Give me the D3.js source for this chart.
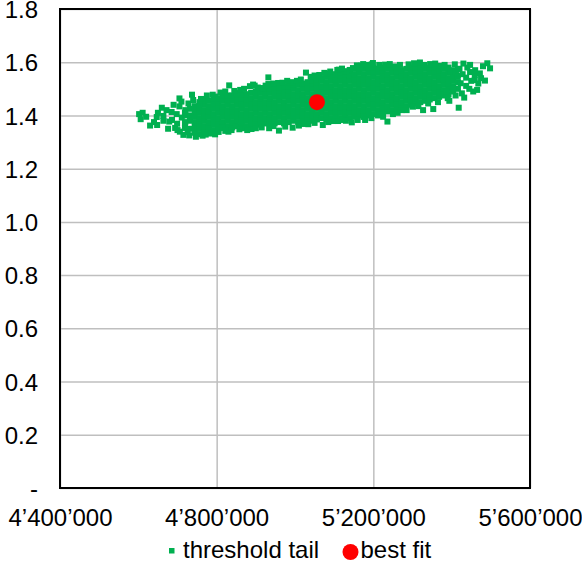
<!DOCTYPE html>
<html>
<head>
<meta charset="utf-8">
<script src="https://cdn.jsdelivr.net/npm/d3@7"></script>
<style>
  html, body { margin: 0; padding: 0; background: #fff; }
  svg { display: block; }
  text { font-family: "Liberation Sans", Arial, sans-serif; fill: #000; }
</style>
</head>
<body>
<svg id="chart" width="582" height="563"></svg>
<script>
// Axis ticks (x in thousands)
const xTicks = [4400, 4800, 5200, 5600];
const yTicks = [0, 0.2, 0.4, 0.6, 0.8, 1.0, 1.2, 1.4, 1.6, 1.8];

// Threshold-tail sample, dense part: [x (thousands), [y values]]
const tailColumns = [
  [4720, [1.375, 1.40, 1.42]],
  [4732, [1.35, 1.38, 1.40, 1.425]],
  [4744, [1.335, 1.355, 1.375, 1.395, 1.415, 1.435]],
  [4756, [1.33, 1.35, 1.37, 1.39, 1.41, 1.43, 1.45]],
  [4768, [1.34, 1.36, 1.38, 1.40, 1.42, 1.44, 1.455]],
  [4780, [1.335, 1.355, 1.375, 1.395, 1.415, 1.435, 1.455]],
  [4792, [1.345, 1.365, 1.385, 1.405, 1.425, 1.445, 1.465]],
  [4804, [1.35, 1.37, 1.39, 1.41, 1.43, 1.45, 1.465]],
  [4816, [1.355, 1.375, 1.395, 1.415, 1.435, 1.455, 1.475]],
  [4828, [1.36, 1.38, 1.40, 1.42, 1.44, 1.46, 1.475]],
  [4840, [1.355, 1.375, 1.395, 1.415, 1.435, 1.455, 1.475]],
  [4852, [1.36, 1.38, 1.40, 1.42, 1.44, 1.46, 1.48]],
  [4864, [1.365, 1.385, 1.405, 1.425, 1.445, 1.465, 1.48]],
  [4876, [1.36, 1.38, 1.40, 1.42, 1.44, 1.46, 1.48]],
  [4888, [1.365, 1.385, 1.405, 1.425, 1.445, 1.465, 1.485]],
  [4900, [1.37, 1.39, 1.41, 1.43, 1.45, 1.47, 1.49]],
  [4912, [1.365, 1.385, 1.405, 1.425, 1.445, 1.465, 1.485]],
  [4924, [1.37, 1.39, 1.41, 1.43, 1.45, 1.47, 1.49, 1.50]],
  [4936, [1.365, 1.385, 1.405, 1.425, 1.445, 1.465, 1.485, 1.50]],
  [4948, [1.37, 1.39, 1.41, 1.43, 1.45, 1.47, 1.49, 1.505]],
  [4960, [1.375, 1.395, 1.415, 1.435, 1.455, 1.475, 1.495, 1.505]],
  [4972, [1.37, 1.39, 1.41, 1.43, 1.45, 1.47, 1.49, 1.51]],
  [4984, [1.375, 1.395, 1.415, 1.435, 1.455, 1.475, 1.495, 1.51]],
  [4996, [1.38, 1.40, 1.42, 1.44, 1.46, 1.48, 1.50, 1.515]],
  [5008, [1.375, 1.395, 1.415, 1.435, 1.455, 1.475, 1.495, 1.515]],
  [5020, [1.38, 1.40, 1.42, 1.44, 1.46, 1.48, 1.50, 1.52]],
  [5032, [1.385, 1.405, 1.425, 1.445, 1.465, 1.485, 1.505, 1.525]],
  [5044, [1.38, 1.40, 1.42, 1.44, 1.46, 1.48, 1.50, 1.52, 1.53]],
  [5056, [1.385, 1.405, 1.425, 1.445, 1.465, 1.485, 1.505, 1.525, 1.535]],
  [5068, [1.39, 1.41, 1.43, 1.45, 1.47, 1.49, 1.51, 1.53, 1.54]],
  [5080, [1.385, 1.405, 1.425, 1.445, 1.465, 1.485, 1.505, 1.525, 1.545]],
  [5092, [1.39, 1.41, 1.43, 1.45, 1.47, 1.49, 1.51, 1.53, 1.55]],
  [5104, [1.395, 1.415, 1.435, 1.455, 1.475, 1.495, 1.515, 1.535, 1.555]],
  [5116, [1.39, 1.41, 1.43, 1.45, 1.47, 1.49, 1.51, 1.53, 1.55, 1.56]],
  [5128, [1.395, 1.415, 1.435, 1.455, 1.475, 1.495, 1.515, 1.535, 1.555, 1.565]],
  [5140, [1.39, 1.41, 1.43, 1.45, 1.47, 1.49, 1.51, 1.53, 1.55, 1.57]],
  [5152, [1.395, 1.415, 1.435, 1.455, 1.475, 1.495, 1.515, 1.535, 1.555, 1.575]],
  [5164, [1.40, 1.42, 1.44, 1.46, 1.48, 1.50, 1.52, 1.54, 1.56, 1.575]],
  [5176, [1.395, 1.415, 1.435, 1.455, 1.475, 1.495, 1.515, 1.535, 1.555, 1.575]],
  [5188, [1.40, 1.42, 1.44, 1.46, 1.48, 1.50, 1.52, 1.54, 1.56, 1.58]],
  [5200, [1.405, 1.425, 1.445, 1.465, 1.485, 1.505, 1.525, 1.545, 1.565, 1.58]],
  [5212, [1.40, 1.42, 1.44, 1.46, 1.48, 1.50, 1.52, 1.54, 1.56, 1.575]],
  [5224, [1.41, 1.43, 1.45, 1.47, 1.49, 1.51, 1.53, 1.55, 1.57, 1.58]],
  [5236, [1.415, 1.435, 1.455, 1.475, 1.495, 1.515, 1.535, 1.555, 1.575]],
  [5248, [1.42, 1.44, 1.46, 1.48, 1.50, 1.52, 1.54, 1.56, 1.58]],
  [5260, [1.425, 1.445, 1.465, 1.485, 1.505, 1.525, 1.545, 1.565, 1.58]],
  [5272, [1.43, 1.45, 1.47, 1.49, 1.51, 1.53, 1.55, 1.57]],
  [5284, [1.435, 1.455, 1.475, 1.495, 1.515, 1.535, 1.555, 1.575]],
  [5296, [1.44, 1.46, 1.48, 1.50, 1.52, 1.54, 1.56, 1.58]],
  [5308, [1.445, 1.465, 1.485, 1.505, 1.525, 1.545, 1.565, 1.58]],
  [5320, [1.45, 1.47, 1.49, 1.51, 1.53, 1.55, 1.57, 1.585]],
  [5332, [1.455, 1.475, 1.495, 1.515, 1.535, 1.555, 1.575]],
  [5344, [1.46, 1.48, 1.50, 1.52, 1.54, 1.56, 1.58]],
  [5356, [1.465, 1.485, 1.505, 1.525, 1.545, 1.565, 1.58]],
  [5368, [1.47, 1.49, 1.51, 1.53, 1.55, 1.57, 1.585]],
  [5380, [1.475, 1.495, 1.515, 1.535, 1.555, 1.575]],
  [5392, [1.48, 1.50, 1.52, 1.54, 1.56, 1.58]],
  [5404, [1.49, 1.51, 1.53, 1.55, 1.57]],
  [5416, [1.50, 1.525, 1.55, 1.575]]
];

// Threshold-tail sample, scattered edge points: [x (thousands), y]
const tailScattered = [
  // left tail
  [4602, 1.405], [4606, 1.386], [4611, 1.410], [4630, 1.362], [4647, 1.394],
  [4648, 1.364], [4660, 1.429], [4664, 1.398], [4664, 1.380], [4679, 1.377],
  [4685, 1.413], [4686, 1.383], [4694, 1.353], [4698, 1.405], [4699, 1.369],
  [4705, 1.464], [4705, 1.434], [4706, 1.339], [4711, 1.392], [4715, 1.327],
  [4719, 1.353], [4719, 1.410], [4719, 1.372], [4737, 1.478], [4747, 1.320],
  [4757, 1.443], [4764, 1.324], [4775, 1.475], [4796, 1.471], [4796, 1.329],
  [4785, 1.332], [4805, 1.338], [4650, 1.410], [4672, 1.420], [4690, 1.440],
  [4700, 1.345], [4676, 1.350], [4640, 1.375], [4620, 1.395], [4710, 1.452],
  [4726, 1.338], [4728, 1.445],
  // upper edge
  [4832, 1.513], [4851, 1.484], [4860, 1.496], [4885, 1.510], [4893, 1.516],
  [4897, 1.512], [4916, 1.503], [4932, 1.543], [4932, 1.518], [4957, 1.522],
  [4987, 1.522], [4994, 1.525], [5028, 1.561], [5082, 1.558], [5108, 1.571],
  [5112, 1.572], [5132, 1.566], [5140, 1.571], [5148, 1.578], [5168, 1.587],
  [5174, 1.593], [5196, 1.592], [5199, 1.597], [5230, 1.591], [5255, 1.584],
  [5304, 1.596], [5319, 1.599], [5345, 1.593], [5370, 1.586], [5396, 1.566],
  [5408, 1.592], [5411, 1.563],
  [4740, 1.458], [4760, 1.462], [4790, 1.478], [4810, 1.486], [4822, 1.490],
  [4845, 1.492], [4870, 1.500], [4905, 1.505], [4925, 1.512], [4945, 1.520],
  [4968, 1.523], [4980, 1.530], [5005, 1.530], [5015, 1.535], [5040, 1.545],
  [5050, 1.550], [5062, 1.552], [5075, 1.560], [5090, 1.565], [5120, 1.576],
  [5158, 1.588], [5185, 1.590], [5215, 1.590], [5242, 1.593], [5268, 1.590],
  [5290, 1.592], [5330, 1.590], [5358, 1.595], [5382, 1.590],
  // lower edge
  [4814, 1.353], [4830, 1.339], [4847, 1.360], [4868, 1.352], [4889, 1.349],
  [4934, 1.352], [4959, 1.343], [4994, 1.354], [5034, 1.367], [5071, 1.364],
  [5097, 1.379], [5110, 1.379], [5122, 1.383], [5145, 1.374], [5175, 1.395],
  [5179, 1.383], [5216, 1.402], [5236, 1.377], [5272, 1.420], [5301, 1.433],
  [5327, 1.420], [5353, 1.424],
  [4730, 1.325], [4772, 1.328], [4790, 1.335], [4822, 1.342], [4838, 1.345],
  [4858, 1.348], [4878, 1.345], [4900, 1.352], [4915, 1.355], [4945, 1.360],
  [4975, 1.358], [5010, 1.362], [5022, 1.368], [5050, 1.372], [5085, 1.375],
  [5130, 1.380], [5160, 1.383], [5195, 1.390], [5225, 1.395], [5250, 1.405],
  [5262, 1.410], [5285, 1.420], [5315, 1.435], [5340, 1.445], [5365, 1.450],
  [5390, 1.465], [5410, 1.475],
  // right end
  [5379, 1.477], [5387, 1.489], [5394, 1.455], [5404, 1.502], [5418, 1.429],
  [5423, 1.521], [5426, 1.483], [5432, 1.467], [5437, 1.542], [5437, 1.511],
  [5447, 1.590], [5447, 1.563], [5459, 1.533], [5459, 1.552], [5465, 1.496],
  [5472, 1.558], [5485, 1.531], [5491, 1.596], [5498, 1.577], [5420, 1.575],
  [5428, 1.555], [5415, 1.545], [5440, 1.580],
  [5450, 1.530], [5460, 1.570], [5475, 1.540], [5480, 1.585], [5430, 1.595],
  [5468, 1.520], [5445, 1.500], [5455, 1.490]
];

// Best-fit point: [x (thousands), y]
const bestFit = [5056, 1.45];

const seriesNames = ["threshold tail", "best fit"];
const green = "#00B050";
const red = "#FF0000";

const svg = d3.select("#chart");
const W = 582, H = 563;
const margin = { left: 60, top: 9, right: 52, bottom: 75 };
const plotW = W - margin.left - margin.right;   // 470
const plotH = H - margin.top - margin.bottom;   // 479

const x = d3.scaleLinear().domain([4400, 5600]).range([margin.left, margin.left + plotW]);
const y = d3.scaleLinear().domain([0, 1.8]).range([margin.top + plotH, margin.top]);

const tailPoints = [];
tailColumns.forEach(([xv, ys]) => ys.forEach(yv => tailPoints.push([xv, yv])));
tailScattered.forEach(p => tailPoints.push(p));

// Gridlines
const gridColor = "#BFBFBF";
svg.append("g")
  .attr("transform", `translate(${margin.left},0)`)
  .call(d3.axisLeft(y).tickValues(yTicks).tickSize(-plotW).tickFormat(""))
  .call(g => g.select(".domain").remove())
  .call(g => g.selectAll("line").attr("stroke", gridColor).attr("stroke-width", 1.5));
svg.append("g")
  .attr("transform", `translate(0,${margin.top + plotH})`)
  .call(d3.axisBottom(x).tickValues(xTicks).tickSize(-plotH).tickFormat(""))
  .call(g => g.select(".domain").remove())
  .call(g => g.selectAll("line").attr("stroke", gridColor).attr("stroke-width", 1.5));

// Axis labels
const fmtX = d => d3.format(",")(d * 1000).replace(/,/g, "\u2019");
const fmtY = d => d === 0 ? "-" : d3.format(".1f")(d);

svg.append("g")
  .attr("transform", `translate(${margin.left},0)`)
  .call(d3.axisLeft(y).tickValues(yTicks).tickSize(0).tickPadding(22).tickFormat(fmtY))
  .call(g => g.select(".domain").remove())
  .call(g => g.selectAll("text")
    .attr("font-family", "Liberation Sans, Arial, sans-serif")
    .attr("font-size", 24).attr("fill", "#000").attr("dy", "0.36em"));

svg.append("g")
  .attr("transform", `translate(0,${margin.top + plotH})`)
  .call(d3.axisBottom(x).tickValues(xTicks).tickSize(0).tickPadding(21).tickFormat(fmtX))
  .call(g => g.select(".domain").remove())
  .call(g => g.selectAll("text")
    .attr("font-family", "Liberation Sans, Arial, sans-serif")
    .attr("font-size", 24).attr("fill", "#000"));

// Threshold-tail markers
const sq = 6;
svg.append("g")
  .selectAll("rect")
  .data(tailPoints)
  .join("rect")
  .attr("x", d => x(d[0]) - sq / 2)
  .attr("y", d => y(d[1]) - sq / 2)
  .attr("width", sq)
  .attr("height", sq)
  .attr("fill", green);

// Best-fit marker
svg.append("circle")
  .attr("cx", x(bestFit[0]))
  .attr("cy", y(bestFit[1]))
  .attr("r", 8)
  .attr("fill", red);

// Plot frame
svg.append("rect")
  .attr("x", margin.left)
  .attr("y", margin.top)
  .attr("width", plotW)
  .attr("height", plotH)
  .attr("fill", "none")
  .attr("stroke", "#000")
  .attr("stroke-width", 2);

// Legend
const legend = svg.append("g");
legend.append("rect")
  .attr("x", 169).attr("y", 548).attr("width", 5.5).attr("height", 5.5)
  .attr("fill", green);
legend.append("text")
  .attr("x", 183).attr("y", 558)
  .attr("font-size", 24)
  .text(seriesNames[0]);
legend.append("circle")
  .attr("cx", 350.5).attr("cy", 552).attr("r", 8)
  .attr("fill", red);
legend.append("text")
  .attr("x", 360.5).attr("y", 558)
  .attr("font-size", 24)
  .text(seriesNames[1]);
</script>
</body>
</html>
